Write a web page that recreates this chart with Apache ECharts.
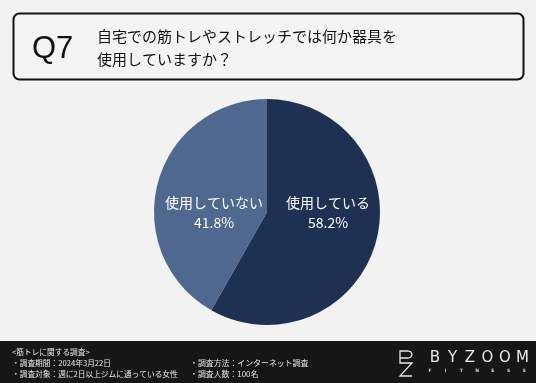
<!DOCTYPE html>
<html><head><meta charset="utf-8">
<script src="https://cdn.jsdelivr.net/npm/echarts@6/dist/echarts.min.js"></script>
<style>html,body{margin:0;padding:0;background:#f2f2f2}#c{width:536px;height:383px}</style>
</head><body><div id="c"></div>
<script>
const categories = ['使用している', '使用していない'];
const values = [58.2, 41.8];
const colors = ['#1e3153', '#4f6890'];
const questionNo = 'Q7';
const questionLines = ['自宅での筋トレやストレッチでは何か器具を', '使用していますか？'];
const footerCol1 = ['<筋トレに関する調査>', '・調査期間：2024年3月22日', '・調査対象：週に2日以上ジムに通っている女性'];
const footerCol2 = ['・調査方法：インターネット調査', '・調査人数：100名'];
const brand = 'BYZOOM';
const brandSub = 'FITNESS';

const FONT = '"Noto Sans CJK JP", "Noto Sans", sans-serif';
const chart = echarts.init(document.getElementById('c'), null, {renderer: 'canvas'});
const labelPos = [[328, 213], [214, 213]];

const brandLetters = brand.split('').map((ch, i) => ({
  type: 'text', x: 435 + i * 17.5, y: 358,
  style: {text: ch, font: '15px "DejaVu Sans", sans-serif', fill: '#e8e8e8', align: 'center', verticalAlign: 'middle'}
}));
const subLetters = brandSub.split('').map((ch, i) => ({
  type: 'text', x: 430 + i * 15.7, y: 371,
  style: {text: ch, font: 'bold 4.5px "DejaVu Sans", sans-serif', fill: '#dcdcdc', align: 'center', verticalAlign: 'middle'}
}));
const iconStyle = {fill: null, stroke: '#e8e8e8', lineWidth: 1.3};

chart.setOption({
  backgroundColor: '#f2f2f2',
  animation: false,
  graphic: [
    {type: 'rect', shape: {x: 13.5, y: 13.5, width: 510, height: 66, r: 6}, style: {fill: '#f4f4f4', stroke: '#111', lineWidth: 2}},
    {type: 'text', x: 32, y: 49, style: {text: questionNo, font: '31px "Liberation Sans", Arial, sans-serif', fill: '#111', verticalAlign: 'middle'}},
    {type: 'text', x: 97, y: 36, style: {text: questionLines[0], font: '15px ' + FONT, fill: '#111', verticalAlign: 'middle'}},
    {type: 'text', x: 97, y: 59, style: {text: questionLines[1], font: '15px ' + FONT, fill: '#111', verticalAlign: 'middle'}},
    {type: 'rect', shape: {x: 0, y: 341, width: 536, height: 42}, style: {fill: '#161616'}},
    ...footerCol1.map((t, i) => ({type: 'text', x: 12, y: 352 + i * 10.8, style: {text: t, font: '7.7px ' + FONT, fill: '#e8e8e8', verticalAlign: 'middle'}})),
    ...footerCol2.map((t, i) => ({type: 'text', x: 190, y: 363 + i * 10.8, style: {text: t, font: '7.9px ' + FONT, fill: '#e8e8e8', verticalAlign: 'middle'}})),
    {type: 'polyline', shape: {points: [[400, 358], [400, 351], [408, 351], [411, 352], [412, 354.5], [411, 357], [408, 358], [400, 358], [400, 363], [412, 363], [400, 376], [412, 376]]}, style: iconStyle},
    ...brandLetters,
    ...subLetters
  ],
  series: [{
    type: 'pie',
    center: [267, 212],
    radius: [0, 113],
    startAngle: 90,
    clockwise: true,
    silent: true,
    data: categories.map((c, i) => ({name: c, value: values[i], itemStyle: {color: colors[i]}})),
    label: {
      show: true, position: 'inside', color: '#ffffff', fontFamily: FONT, fontSize: 14, lineHeight: 20,
      formatter: p => p.name + '\n' + p.value.toFixed(1) + '%'
    },
    labelLayout: p => ({x: labelPos[p.dataIndex][0], y: labelPos[p.dataIndex][1], align: 'center', verticalAlign: 'middle'}),
    labelLine: {show: false}
  }]
});
</script></body></html>
